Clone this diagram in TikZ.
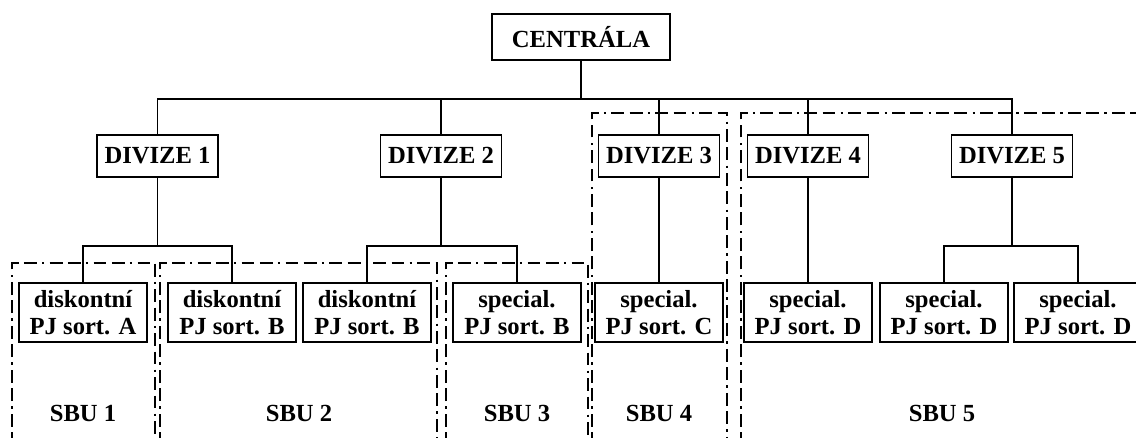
\documentclass[tikz,border=0pt]{standalone}
\usepackage{fontspec}
\setmainfont{Liberation Serif}
\usetikzlibrary{positioning,calc}

\begin{document}
\begin{tikzpicture}[x=0.03cm,y=-0.03cm,line width=1.1pt,
  font=\bfseries\fontsize{21}{23}\selectfont,
  top/.style={draw,minimum width=5.34cm,minimum height=1.38cm,inner sep=0pt},
  div/.style={draw,minimum width=3.63cm,minimum height=1.26cm,inner sep=0pt},
  pj/.style={draw,minimum width=3.84cm,minimum height=1.77cm,inner sep=0pt,align=center},
  sbu/.style={inner sep=0pt},
  grp/.style={line width=1.1pt,dash pattern=on 11pt off 4.5pt on 11pt off 4.5pt on 2pt off 4.5pt}]
  \useasboundingbox (0,0) rectangle (1136,437);
  \node[top] (cent) at (581,37) {CENTRÁLA};
  \node[div] (d1) at (157.5,156) {DIVIZE 1};
  \node[div] (d2) at (441,156) {DIVIZE 2};
  \node[div] (d3) at (659,156) {DIVIZE 3};
  \node[div] (d4) at (808,156) {DIVIZE 4};
  \node[div] (d5) at (1012,156) {DIVIZE 5};
  \node[pj] (l1) at (83,312.5) {diskontní\\PJ sort. A};
  \node[pj] (l2) at (232,312.5) {diskontní\\PJ sort. B};
  \node[pj] (l3) at (367,312.5) {diskontní\\PJ sort. B};
  \node[pj] (l4) at (517,312.5) {special.\\PJ sort. B};
  \node[pj] (l5) at (659,312.5) {special.\\PJ sort. C};
  \node[pj] (l6) at (808,312.5) {special.\\PJ sort. D};
  \node[pj] (l7) at (944,312.5) {special.\\PJ sort. D};
  \node[pj] (l8) at (1078,312.5) {special.\\PJ sort. D};
  \node[sbu] (s1) at (83,413) {SBU 1};
  \node[sbu] (s2) at (299,413) {SBU 2};
  \node[sbu] (s3) at (517,413) {SBU 3};
  \node[sbu] (s4) at (659,413) {SBU 4};
  \node[sbu] (s5) at (942,413) {SBU 5};
  \coordinate (bus) at (0,99);
  \coordinate (sub) at (0,246);
  % tree
  \draw (cent.south) -- (cent.south |- bus);
  \draw (d1.north) -- (d1.north |- bus) -- (d5.north |- bus) -- (d5.north);
  \foreach \d in {d2,d3,d4} {\draw (\d.north) -- (\d.north |- bus);}
  \draw (d1.south) -- (d1.south |- sub);
  \draw (l1.north) -- (l1.north |- sub) -- (l2.north |- sub) -- (l2.north);
  \draw (d2.south) -- (d2.south |- sub);
  \draw (l3.north) -- (l3.north |- sub) -- (l4.north |- sub) -- (l4.north);
  \draw (d3) -- (l5);
  \draw (d4) -- (l6);
  \draw (d5.south) -- (d5.south |- sub);
  \draw (l7.north) -- (l7.north |- sub) -- (l8.north |- sub) -- (l8.north);
  % SBU groups
  \draw[grp] (12,445) -- (12,263) -- (155,263) -- (155,445);
  \draw[grp] (160,445) -- (160,263) -- (437,263) -- (437,445);
  \draw[grp] (446,445) -- (446,263) -- (588,263) -- (588,445);
  \draw[grp] (592,445) -- (592,113) -- (727,113) -- (727,445);
  \draw[grp] (741,445) -- (741,113) -- (1145,113);
\end{tikzpicture}
\end{document}
